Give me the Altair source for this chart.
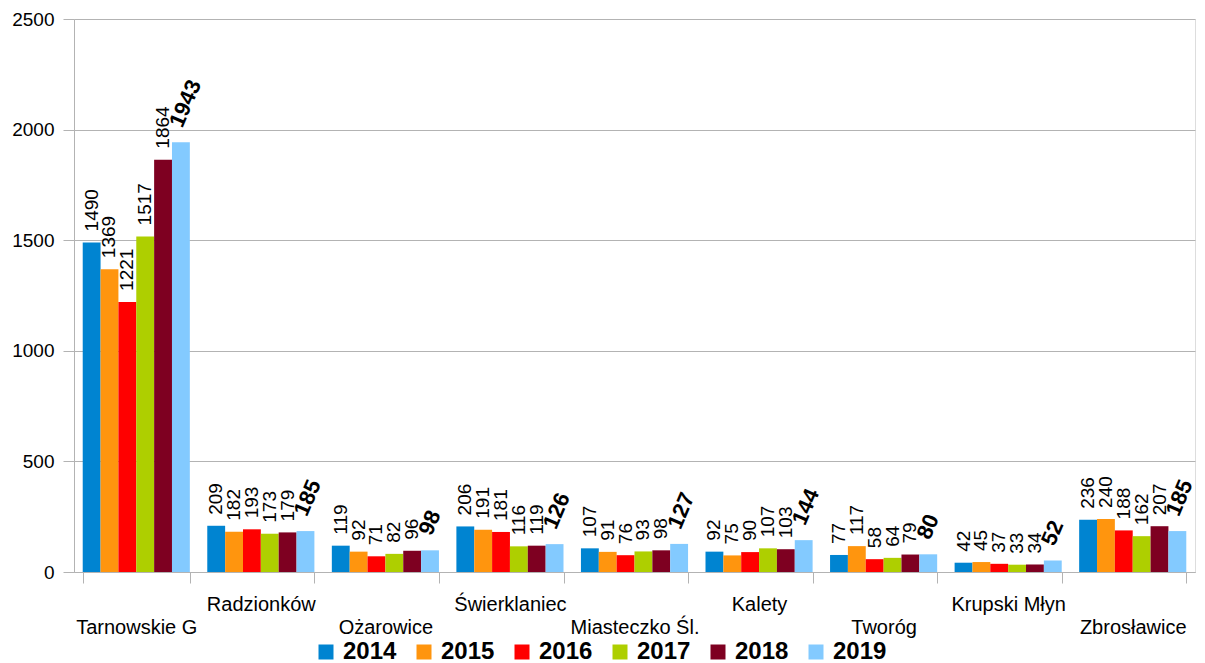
import altair as alt
import pandas as pd

cities = ["Tarnowskie G", "Radzionków", "Ożarowice", "Świerklaniec", "Miasteczko Śl.",
          "Kalety", "Tworóg", "Krupski Młyn", "Zbrosławice"]
years = ["2014", "2015", "2016", "2017", "2018", "2019"]
v2014 = [1490, 209, 119, 206, 107, 92, 77, 42, 236]
v2015 = [1369, 182, 92, 191, 91, 75, 117, 45, 240]
v2016 = [1221, 193, 71, 181, 76, 90, 58, 37, 188]
v2017 = [1517, 173, 82, 116, 93, 107, 64, 33, 162]
v2018 = [1864, 179, 96, 119, 98, 103, 79, 34, 207]
v2019 = [1943, 185, 98, 126, 127, 144, 80, 52, 185]
colors = ["#0084d1", "#ff950e", "#ff0000", "#aecf00", "#7e0021", "#83caff"]

series = [v2014, v2015, v2016, v2017, v2018, v2019]
rows = []
for y, vals in zip(years, series):
    for c, v in zip(cities, vals):
        rows.append({"city": c, "year": y, "value": v})
df = pd.DataFrame(rows)

lower_row = [c for i, c in enumerate(cities) if i % 2 == 0]
label_expr = "indexof(" + str(lower_row).replace('"', "'") + ", datum.value) >= 0 ? ['', datum.value] : datum.value"

FONT = "Liberation Sans"
GRID = "#b3b3b3"

x = alt.X("city:N", sort=cities, title=None,
          scale=alt.Scale(paddingInner=0.14, paddingOuter=0.07),
          axis=alt.Axis(labelExpr=label_expr, labelAngle=0, labelBaseline="alphabetic",
                        labelPadding=27, labelLineHeight=23, labelFontSize=20,
                        labelFont=FONT, labelColor="#000000", labelOverlap=False,
                        labelLimit=300, tickBand="extent", tickSize=11, tickColor=GRID,
                        domainColor=GRID, grid=False))
xo = alt.XOffset("year:N", sort=years, scale=alt.Scale(paddingInner=0, paddingOuter=0))
y = alt.Y("value:Q", title=None,
          scale=alt.Scale(domain=[0, 2500], nice=False),
          axis=alt.Axis(values=[0, 500, 1000, 1500, 2000, 2500], format="d", tickSize=11,
                        tickColor=GRID, domainColor=GRID, gridColor=GRID, labelFontSize=19,
                        labelFont=FONT, labelColor="#000000", labelPadding=9))

base = alt.Chart(df)

bars = base.mark_bar().encode(
    x=x, xOffset=xo, y=y,
    color=alt.Color("year:N", sort=years,
                    scale=alt.Scale(domain=years, range=colors),
                    legend=alt.Legend(title=None, orient="none", direction="horizontal",
                                      columns=6, legendX=240, legendY=621,
                                      symbolType="square", symbolSize=225,
                                      symbolStrokeWidth=0, labelFontSize=24,
                                      labelFontWeight="bold", labelFont=FONT,
                                      labelColor="#000000", labelOffset=5,
                                      columnPadding=15, padding=0))
)

labels = base.transform_filter("datum.year != '2019'").mark_text(
    angle=270, align="left", baseline="middle", dx=11, fontSize=19, font=FONT, color="#000000"
).encode(x=x, xOffset=xo, y=y, text=alt.Text("value:Q"))

labels19 = base.transform_filter("datum.year == '2019'").mark_text(
    angle=293, align="left", baseline="middle", dx=13, dy=-11, fontSize=22,
    fontWeight="bold", font=FONT, color="#000000"
).encode(x=x, xOffset=xo, y=y, text=alt.Text("value:Q"))

chart = alt.layer(bars, labels, labels19).properties(
    width=1121, height=553,
    autosize=alt.AutoSizeParams(type="none"),
    padding={"left": 66, "top": 11, "right": 2, "bottom": 91},
).configure_view(stroke=GRID, strokeWidth=1).configure(background="white")

chart.save("out.html", embed_options={"renderer": "svg", "actions": False})
